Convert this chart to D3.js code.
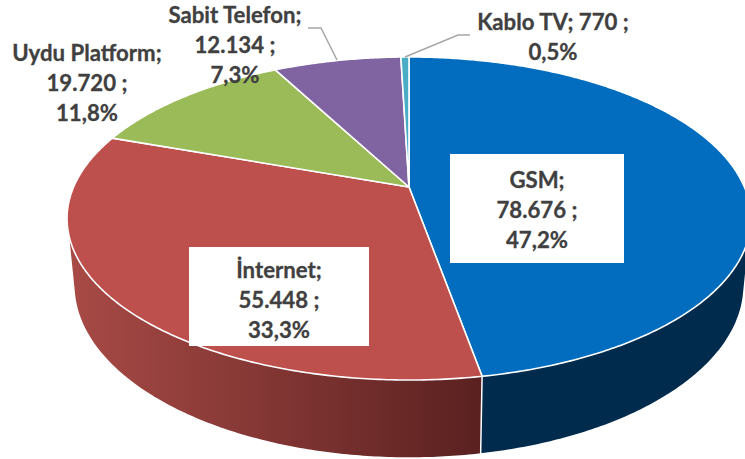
<!DOCTYPE html>
<html>
<head>
<meta charset="utf-8">
<script src="https://cdn.jsdelivr.net/npm/d3@7"></script>
<style>
html, body { margin: 0; padding: 0; background: #fff; overflow: hidden; }
text { font-family: Lato, "Open Sans", sans-serif; font-weight: 700; fill: #404040; stroke: #404040; stroke-width: 0.3px; }
</style>
</head>
<body>
<div id="chart"></div>
<script>
'use strict'

let categories = ["GSM", "İnternet", "Uydu Platform", "Sabit Telefon", "Kablo TV"]
let values = [78676, 55448, 19720, 12134, 770]
let colors = ["#026dbe", "#bd4f4c", "#9bbb59", "#8064a2", "#4bacc6"]
let labelLines = [
	["GSM;", "78.676 ;", "47,2%"],
	["İnternet;", "55.448 ;", "33,3%"],
	["Uydu Platform;", "19.720 ;", "11,8%"],
	["Sabit Telefon;", "12.134 ;", "7,3%"],
	["Kablo TV; 770 ;", "0,5%"]
]

let width = 745
let height = 459

// label layout: centre x, first baseline, optional white box
let labelPos = [
	{x: 537, y: 188, box: [450, 154, 174, 109]},
	{x: 279, y: 278, box: [189, 247, 180, 99]},
	{x: 87, y: 61},
	{x: 235, y: 23},
	{x: 553, y: 30}
]
let leaders = [
	[[308, 28], [321, 28], [337, 60]],
	[[470, 35], [458, 35], [405, 57]]
]

// perspective of a tilted disc: apex is the centre of the pie
let apex = {x: 409, y: 187}
let tilt = -0.195
let xReach = 335.4
let yReach = 155.4

function project(angle, sx, sy, dy){
	let u = Math.sin(angle)
	let v = -Math.cos(angle)
	let w = 1 + tilt * v
	return [apex.x + sx * xReach * u / w, apex.y + dy + sy * yReach * v / w]
}

function rimAngles(a0, a1){
	let n = Math.max(2, Math.ceil((a1 - a0) / 0.01))
	return d3.range(n + 1).map(function(i){ return a0 + (a1 - a0) * i / n })
}

let pie = d3.pie().sort(null).value(function(d){ return d })
let arcs = pie(values)
let line = d3.line()

let svg = d3.select("#chart").append("svg")
	.attr("width", width)
	.attr("height", height)
	.style("display", "block")

let defs = svg.append("defs")
let wallStops = [
	[["0%", "#002b4d"], ["100%", "#002b4d"]],
	[["0%", "#a84a46"], ["100%", "#5a2120"]]
]
wallStops.forEach(function(stops, i){
	let g = defs.append("linearGradient").attr("id", "wall" + i)
		.attr("gradientUnits", "userSpaceOnUse")
		.attr("x1", i == 1 ? 70 : 481).attr("x2", i == 1 ? 481 : 745)
		.attr("y1", 0).attr("y2", 0)
	stops.forEach(function(s){
		g.append("stop").attr("offset", s[0]).attr("stop-color", s[1])
	})
})

// bottom rim of the wall
let wallX = 0.98
let wallY = 1.071
let wallDrop = 64.3

// side walls first, the top disc covers what is behind
svg.append("g").selectAll("path").data(arcs.slice(0, 2)).enter().append("path")
	.attr("d", function(d){
		let a = rimAngles(d.startAngle, d.endAngle)
		let top = a.map(function(t){ return project(t, 1, 1, 0) })
		let bottom = a.map(function(t){ return project(t, wallX, wallY, wallDrop) })
		return line(d3.polygonHull(top.concat(bottom))) + "Z"
	})
	.attr("fill", function(d, i){ return "url(#wall" + i + ")" })
	.attr("stroke", "#fff")
	.attr("stroke-width", 1.5)

svg.append("g").selectAll("path").data(arcs).enter().append("path")
	.attr("d", function(d){
		let rim = rimAngles(d.startAngle, d.endAngle).map(function(t){ return project(t, 1, 1, 0) })
		return line([[apex.x, apex.y]].concat(rim)) + "Z"
	})
	.attr("fill", function(d, i){ return colors[i] })
	.attr("stroke", "#fff")
	.attr("stroke-width", 1.6)
	.attr("stroke-linejoin", "round")

svg.append("g").selectAll("path").data(leaders).enter().append("path")
	.attr("d", function(d){ return line(d) })
	.attr("fill", "none")
	.attr("stroke", "#a6a6a6")
	.attr("stroke-width", 1.5)

let labels = svg.append("g").selectAll("g").data(categories).enter().append("g")

labels.each(function(d, i){
	let g = d3.select(this)
	let p = labelPos[i]
	if (p.box){
		g.append("rect")
			.attr("x", p.box[0]).attr("y", p.box[1])
			.attr("width", p.box[2]).attr("height", p.box[3])
			.attr("fill", "#fff")
	}
	labelLines[i].forEach(function(t, j){
		g.append("text")
			.attr("x", p.x)
			.attr("y", p.y + j * 30)
			.attr("text-anchor", "middle")
			.attr("font-size", 22.2)
			.text(t)
	})
})
</script>
</body>
</html>
